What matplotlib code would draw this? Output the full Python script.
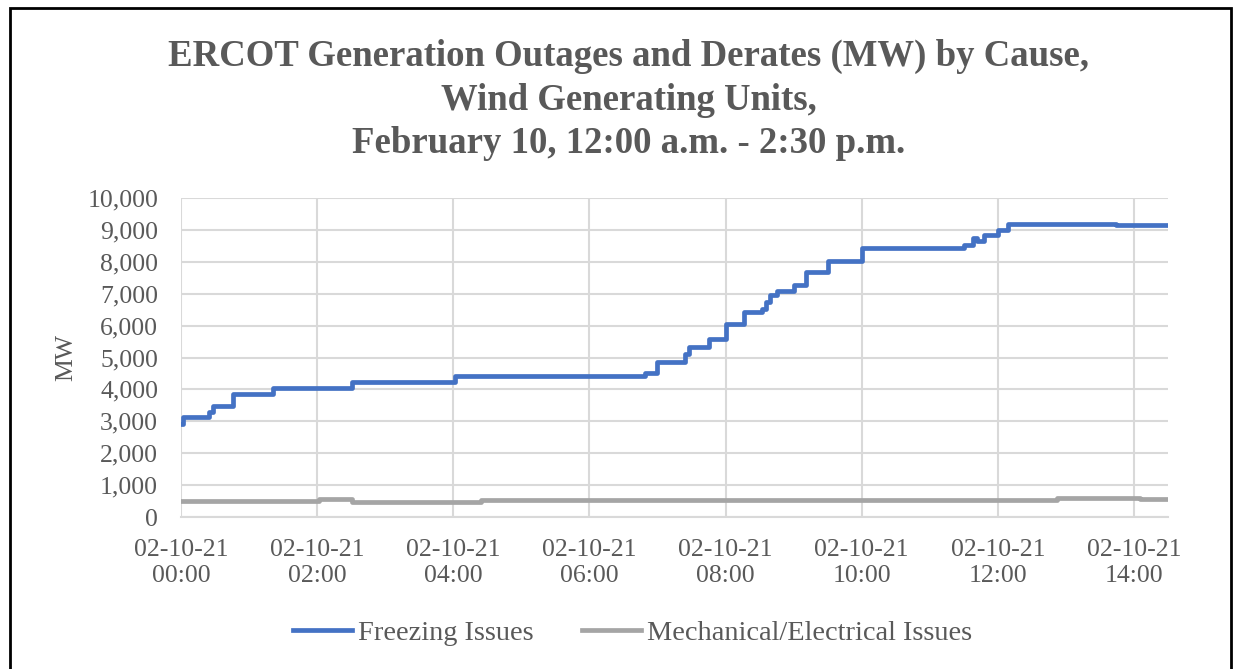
import matplotlib.pyplot as plt
from matplotlib.patches import Rectangle

# hours after 00:00 on 02-10-21, step starts (value holds until next time)
freeze_hours = [0.0, 0.03, 0.41, 0.47, 0.76, 1.35, 2.51, 4.03, 6.82, 7.0, 7.40, 7.46,
                7.75, 8.01, 8.27, 8.54, 8.59, 8.66, 8.76, 9.0, 9.18, 9.51, 10.01,
                11.5, 11.63, 11.7, 11.8, 12.0, 12.15, 13.74, 14.5]
freeze_mw = [2900, 3130, 3290, 3480, 3870, 4030, 4240, 4420, 4500, 4860, 5120, 5330,
             5580, 6060, 6430, 6530, 6730, 6950, 7100, 7260, 7680, 8020, 8420,
             8520, 8750, 8660, 8830, 8990, 9180, 9150, 9150]

mech_hours = [0.0, 2.03, 2.51, 4.41, 12.87, 14.09, 14.5]
mech_mw = [500, 560, 480, 540, 600, 550, 550]

tick_hours = [0, 2, 4, 6, 8, 10, 12, 14]
tick_labels = ["02-10-21\n%02d:00" % h for h in tick_hours]
y_ticks = list(range(0, 10001, 1000))

plt.rcParams['font.family'] = ['Liberation Serif', 'DejaVu Serif']

fig = plt.figure(figsize=(12.35, 6.69), dpi=100)
ax = fig.add_axes([0.1466, 0.2272, 0.7991, 0.4768])

ax.step(freeze_hours, freeze_mw, where='post', color='#4472C4', lw=3.4,
        label='Freezing Issues')
ax.step(mech_hours, mech_mw, where='post', color='#A5A5A5', lw=3.4,
        label='Mechanical/Electrical Issues')

ax.set_xlim(0, 14.5)
ax.set_ylim(0, 10000)
ax.set_xticks(tick_hours)
ax.set_xticklabels(tick_labels, linespacing=1.2)
ax.set_yticks(y_ticks)
ax.set_yticklabels(["{:,}".format(v) for v in y_ticks])
ax.tick_params(axis='both', length=0, labelsize=18.5, labelcolor='#595959')
ax.tick_params(axis='x', pad=16)
ax.tick_params(axis='y', pad=16.5)
ax.grid(True, color='#D9D9D9', lw=1.5)
ax.set_axisbelow(True)
for s in ['top', 'right', 'left']:
    ax.spines[s].set_visible(False)
ax.spines['bottom'].set_color('#D9D9D9')
ax.spines['bottom'].set_linewidth(1.5)

ax.set_ylabel('MW', fontsize=18.5, color='#595959')
ax.yaxis.set_label_coords(-0.105, 0.5)

fig.text(0.509, 0.8505, "ERCOT Generation Outages and Derates (MW) by Cause,\n"
         "Wind Generating Units,\nFebruary 10, 12:00 a.m. - 2:30 p.m.",
         ha='center', va='center', fontsize=26.5, fontweight='bold', color='#595959',
         linespacing=1.32)

fig.legend(loc='center', bbox_to_anchor=(0.512, 0.054), ncol=2, frameon=False,
           fontsize=20.4, handlelength=2.1, handletextpad=0.2, columnspacing=1.7,
           labelcolor='#595959')

# outer frame
fig.patches.append(Rectangle((0.008, -0.05), 0.989, 1.038, transform=fig.transFigure,
                             fill=False, edgecolor='black', lw=2))

fig.savefig('out.png', dpi=100)
